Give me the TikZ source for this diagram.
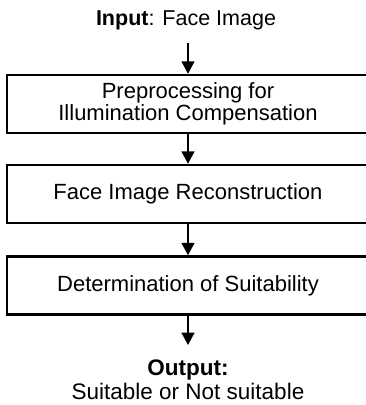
\documentclass[tikz,border=0pt]{standalone}
\usepackage{fontspec}
\setmainfont{Liberation Sans}
\usetikzlibrary{arrows.meta}
\tikzset{
  stepbox/.style={draw=black, line width=2.5pt, minimum width=362pt, minimum height=58pt, inner sep=0pt, align=center, font=\fontsize{22}{22}\selectfont},
  lbl/.style={inner sep=0pt, align=center, font=\fontsize{21.5}{24}\selectfont},
  outlbl/.style={inner sep=0pt, align=center, font=\fontsize{22.5}{24}\selectfont},
  flow/.style={line width=1.6pt, -{Triangle[width=13pt,length=12.5pt]}}
}
\begin{document}
\begin{tikzpicture}[x=1pt,y=-1pt]
\useasboundingbox (0,0) rectangle (366,405);
\node[lbl, anchor=base] (in) at (186,25) {\textbf{Input}: Face Image};
\node[stepbox] (b1) at (188,104) {Preprocessing for\\Illumination Compensation};
\node[stepbox] (b2) at (188,194) {Face Image Reconstruction};
\node[stepbox] (b3) at (188,285.5) {Determination of Suitability};
\node[outlbl, anchor=north] (out) at (188,359.5) {\textbf{Output:}\\Suitable or Not suitable};
\draw[flow, shorten <=13pt] ([xshift=2pt]in.south) -- (b1.north);
\draw[flow] (b1.south) -- (b2.north);
\draw[flow] (b2.south) -- (b3.north);
\draw[flow, shorten >=14.5pt] (b3.south) -- (out.north);
\end{tikzpicture}
\end{document}
